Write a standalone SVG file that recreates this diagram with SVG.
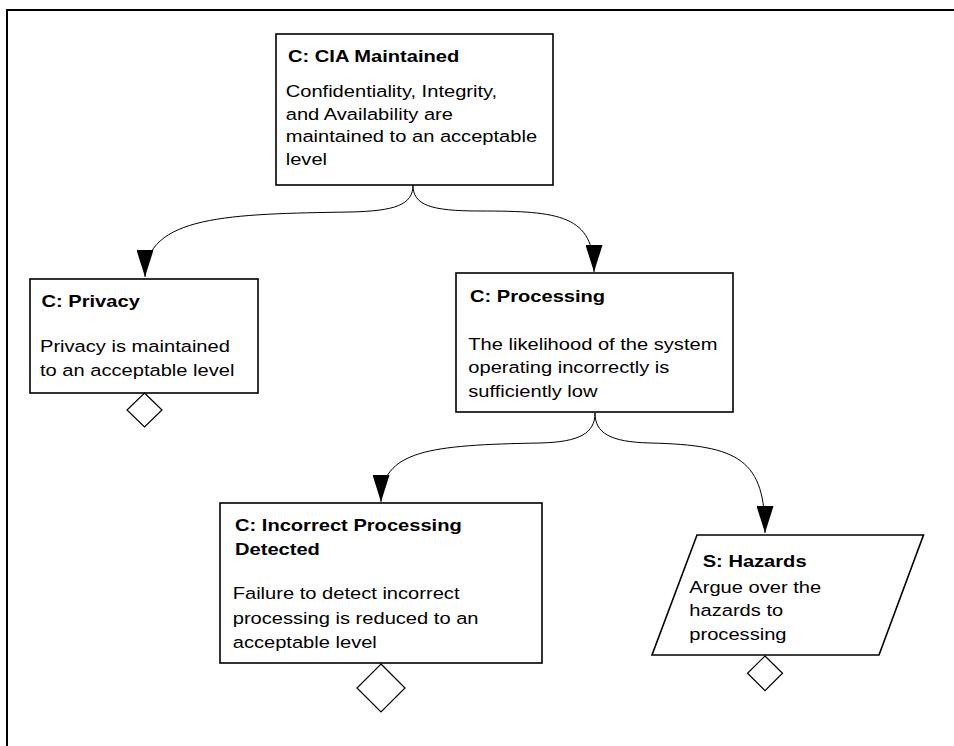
<svg xmlns="http://www.w3.org/2000/svg" width="954" height="746" viewBox="0 0 954 746">
<style>
.box{fill:#fff;stroke:#000;stroke-width:1.6}
.dia{fill:#fff;stroke:#000;stroke-width:1.2}
.edge{fill:none;stroke:#000;stroke-width:1}
.t{font-family:"Liberation Sans",Arial,sans-serif;font-size:17.3px;font-weight:bold;fill:#000}
.b{font-family:"Liberation Sans",Arial,sans-serif;font-size:17.3px;fill:#000}
</style>
<defs>
<marker id="arr" markerUnits="userSpaceOnUse" markerWidth="27" markerHeight="17" refX="27" refY="8.5" orient="auto">
<path d="M0,0 L27,8.5 L0,17 Z" fill="#000"/>
</marker>
</defs>
<rect width="954" height="746" fill="#fff"/>
<path d="M7,747 V10 H956" fill="none" stroke="#000" stroke-width="2"/>

<g id="connectors">
<path class="edge" d="M413,185 C413,205 430,211 480,211 C560,211 594,215 594,272" marker-end="url(#arr)"/>
<path class="edge" d="M413,185 C413,205 395,211 350,212 C230,214 145,215 145,277" marker-end="url(#arr)"/>
<path class="edge" d="M595,413 C595,433 580,442 540,443 C430,445 381,450 381,502" marker-end="url(#arr)"/>
<path class="edge" d="M595,413 C595,433 610,442 650,443 C740,445 765,460 765,533" marker-end="url(#arr)"/>
</g>

<g id="cia">
<rect class="box" x="276" y="34" width="277" height="151"/>
<text class="t" transform="translate(288,61.5) scale(1.162,1)">C: CIA Maintained</text>
<text class="b" transform="translate(285.7,97) scale(1.162,1)"><tspan x="0" y="0">Confidentiality, Integrity,</tspan><tspan x="0" y="22.6">and Availability are</tspan><tspan x="0" y="45.2">maintained to an acceptable</tspan><tspan x="0" y="67.8">level</tspan></text>
</g>

<g id="privacy">
<rect class="box" x="30" y="279" width="228" height="114"/>
<text class="t" transform="translate(41.5,307) scale(1.162,1)">C: Privacy</text>
<text class="b" transform="translate(40,352) scale(1.162,1)"><tspan x="0" y="0">Privacy is maintained</tspan><tspan x="0" y="24.5">to an acceptable level</tspan></text>
<polygon class="dia" points="144.5,393 162,410 144.5,427 127,410"/>
</g>

<g id="processing">
<rect class="box" x="456" y="273" width="277" height="139"/>
<text class="t" transform="translate(470,301.5) scale(1.162,1)">C: Processing</text>
<text class="b" transform="translate(468.3,350) scale(1.162,1)"><tspan x="0" y="0">The likelihood of the system</tspan><tspan x="0" y="23.4">operating incorrectly is</tspan><tspan x="0" y="46.8">sufficiently low</tspan></text>
</g>

<g id="incorrect">
<rect class="box" x="220" y="503" width="322" height="160"/>
<text class="t" transform="translate(235,530.5) scale(1.162,1)"><tspan x="0" y="0">C: Incorrect Processing</tspan><tspan x="0" y="24.3">Detected</tspan></text>
<text class="b" transform="translate(232.7,599.3) scale(1.162,1)"><tspan x="0" y="0">Failure to detect incorrect</tspan><tspan x="0" y="24.5">processing is reduced to an</tspan><tspan x="0" y="49">acceptable level</tspan></text>
<polygon class="dia" points="381,664 405,688 381,712 357,688"/>
</g>

<g id="hazards">
<polygon class="box" points="697,535 923.5,535 879,655 652,655"/>
<text class="t" transform="translate(702.7,567) scale(1.162,1)">S: Hazards</text>
<text class="b" transform="translate(689.3,592.7) scale(1.162,1)"><tspan x="0" y="0">Argue over the</tspan><tspan x="0" y="23.7">hazards to</tspan><tspan x="0" y="47.4">processing</tspan></text>
<polygon class="dia" points="765,656 782.5,673.3 765,690.7 747.5,673.3"/>
</g>
</svg>
